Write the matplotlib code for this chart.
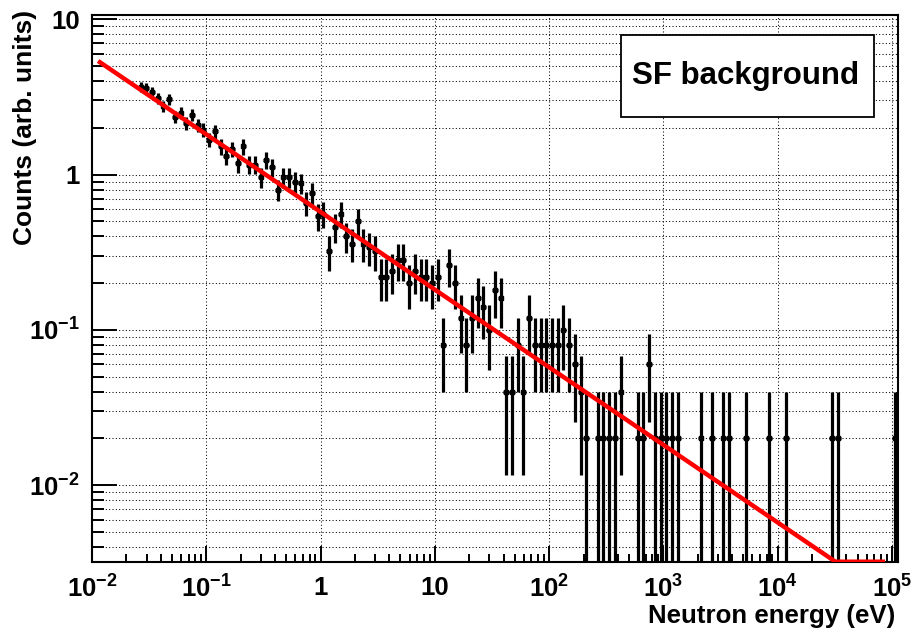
import numpy as np
import matplotlib
matplotlib.use("Agg")
import matplotlib.pyplot as plt
from matplotlib.patches import Rectangle
from matplotlib.ticker import FixedLocator, FixedFormatter, NullFormatter

# histogram binning: 20 log bins per decade from 10^-1.6 eV, one count = 0.02 arb. units
log_e_first = -1.6
bins_per_decade = 20
count_weight = 0.02
counts = [
    184, 180, 171, 155, 138, 153, 118, 125, 107, 121,
    104, 97, 84, 95, 76, 66, 73, 59, 76, 58,
    58, 48, 62, 56, 40, 48, 48, 45, 44, 33,
    38, 27, 28, 16, 23, 28, 20, 18, 25, 18,
    17, 16, 11, 11, 12, 14, 14, 10, 12, 11,
    11, 10, 11, 4, 13, 10, 6, 4, 6, 8,
    7, 5, 9, 8, 2, 2, 4, 2, 6, 4,
    4, 4, 4, 4, 5, 4, 3, 2, 1, 0,
    1, 1, 1, 1, 2, 0, 0, 1, 1, 3,
    1, 1, 1, 1, 1, 0, 0, 0, 1, 0,
    1, 0, 1, 1, 0, 0, 1, 0, 0, 0,
    1, 0, 0, 1, 0, 0, 0, 0, 0, 0,
    0, 1, 1, 0, 0, 0, 0, 0, 0, 0,
    0, 0, 1,
]

# fitted 1/v curve (drawn at the frame bottom once below it)
fit_energy = [0.0113, 1.0, 100.0, 3.2e4, 8.7e4]
fit_counts = [5.39, 0.575, 0.0575, 0.00322, 0.00322]

x_range = (0.01, 1.122e5)
y_range = (0.00322, 10.66)
x_major = [1e-2, 1e-1, 1, 10, 1e2, 1e3, 1e4, 1e5]
x_labels = [r"$10^{-2}$", r"$10^{-1}$", "1", "10", r"$10^{2}$", r"$10^{3}$", r"$10^{4}$", r"$10^{5}$"]
y_major = [1e-2, 1e-1, 1, 10]
y_labels = [r"$10^{-2}$", r"$10^{-1}$", "1", "10"]

plt.rcParams["font.family"] = ["Liberation Sans", "DejaVu Sans"]
plt.rcParams["font.weight"] = "bold"
plt.rcParams["mathtext.fontset"] = "custom"
plt.rcParams["mathtext.rm"] = "Liberation Sans:bold"
plt.rcParams["mathtext.it"] = "Liberation Sans:bold"
plt.rcParams["mathtext.bf"] = "Liberation Sans:bold"

n = np.asarray(counts, dtype=float)
edges = 10 ** (log_e_first + np.arange(len(n) + 1) / bins_per_decade)
lo, hi = edges[:-1], edges[1:]
centers = np.sqrt(lo * hi)
keep = n > 0
y = n * count_weight
err = np.sqrt(n) * count_weight
err_low = np.minimum(err, y * (1 - 1e-6))

fig = plt.figure(figsize=(9.12, 6.29), dpi=100)
ax = fig.add_axes([0.1009, 0.1070, 0.8834, 0.8692])
ax.set_xscale("log")
ax.set_yscale("log")
ax.set_xlim(*x_range)
ax.set_ylim(*y_range)

ax.errorbar(centers[keep], y[keep],
            xerr=[centers[keep] - lo[keep], hi[keep] - centers[keep]],
            yerr=[err_low[keep], err[keep]],
            fmt="s", ms=2.2, color="black", ecolor="black",
            elinewidth=2.3, capsize=0, zorder=3)
ax.plot(fit_energy, fit_counts, color="#ff0000", lw=3.2, zorder=4,
        solid_capstyle="butt")

ax.xaxis.set_major_locator(FixedLocator(x_major))
ax.xaxis.set_major_formatter(FixedFormatter(x_labels))
ax.xaxis.set_minor_locator(FixedLocator(
    [m * 10.0 ** d for d in range(-2, 5) for m in range(2, 10)]))
ax.xaxis.set_minor_formatter(NullFormatter())
ax.yaxis.set_major_locator(FixedLocator(y_major))
ax.yaxis.set_major_formatter(FixedFormatter(y_labels))
ax.yaxis.set_minor_locator(FixedLocator(
    [m * 10.0 ** d for d in range(-3, 2) for m in range(1, 10)]))
ax.yaxis.set_minor_formatter(NullFormatter())

ax.tick_params(axis="x", which="major", direction="in", length=11.3, width=1.4,
               labelsize=18.5, pad=10, top=False)
ax.tick_params(axis="x", which="minor", direction="in", length=5.5, width=1.4, top=False)
ax.tick_params(axis="y", which="major", direction="in", length=17.8, width=1.4,
               labelsize=18.5, pad=9, right=False)
ax.tick_params(axis="y", which="minor", direction="in", length=8.6, width=1.4, right=False)

grid_style = dict(color="black", lw=0.75, linestyle=(0, (1, 2.2)))
ax.grid(True, which="major", axis="x", **grid_style)
ax.grid(True, which="both", axis="y", **grid_style)
ax.set_axisbelow(True)
for side in ax.spines.values():
    side.set_linewidth(1.5)

fig.text(895 / 912, 1 - 623 / 629, "Neutron energy (eV)", fontsize=18.6,
         fontweight="bold", ha="right", va="baseline")
fig.text(25 / 912, 1 - 10 / 629, "Counts (arb. units)", fontsize=19,
         fontweight="bold", rotation=90, ha="center", va="top")

fig.patches.append(Rectangle((621 / 912, 1 - 116.7 / 629), 253 / 912, 81.7 / 629,
                             transform=fig.transFigure, facecolor="white",
                             edgecolor="black", lw=1.3, zorder=5))
fig.text(746 / 912, 1 - 76 / 629, "SF background", fontsize=22.5,
         fontweight="bold", ha="center", va="center", zorder=6)

fig.savefig("out.png", dpi=100)
